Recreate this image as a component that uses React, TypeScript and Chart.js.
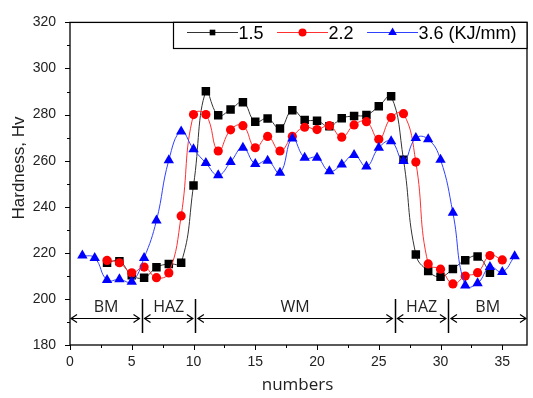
import React, { useEffect, useRef } from 'react';
import { Chart, registerables } from 'chart.js';

Chart.register(...registerables);

// ---- Data ----
const xBlack = [3, 4, 5, 6, 7, 8, 9, 10, 11, 12, 13, 14, 15, 16, 17, 18, 19, 20, 21, 22, 23, 24, 25, 26, 27, 28, 29, 30, 31, 32, 33, 34];
const hv15 = [215.7, 216.4, 210.3, 209.2, 213.7, 215.2, 215.7, 249.2, 290.1, 279.7, 282.2, 285.3, 276.9, 278.3, 274.0, 281.9, 277.7, 277.3, 274.9, 278.4, 279.4, 279.8, 283.6, 287.9, 260.4, 219.3, 212.1, 209.6, 213.0, 216.8, 218.4, 211.4];

const xRed = [3, 4, 5, 6, 7, 8, 9, 10, 11, 12, 13, 14, 15, 16, 17, 18, 19, 20, 21, 22, 23, 24, 25, 26, 27, 28, 29, 30, 31, 32, 33, 34, 35];
const hv22 = [216.7, 215.7, 211.3, 213.8, 209.2, 211.3, 236.0, 280.0, 280.0, 264.2, 273.4, 275.2, 265.6, 270.5, 264.2, 270.5, 274.5, 273.5, 275.2, 270.2, 275.5, 276.9, 269.3, 278.7, 280.4, 259.4, 215.2, 212.9, 206.5, 209.9, 211.4, 218.8, 216.9];

const xBlue = [1, 2, 3, 4, 5, 6, 7, 8, 9, 10, 11, 12, 13, 14, 15, 16, 17, 18, 19, 20, 21, 22, 23, 24, 25, 26, 27, 28, 29, 30, 31, 32, 33, 34, 35, 36];
const hv36 = [218.8, 217.8, 208.2, 208.5, 207.5, 217.8, 234.0, 260.2, 272.6, 265.0, 259.0, 253.7, 259.4, 265.6, 258.6, 260.0, 254.7, 269.6, 261.3, 261.3, 255.4, 258.3, 262.5, 257.5, 265.6, 268.4, 259.9, 269.8, 269.3, 260.4, 237.4, 205.8, 206.8, 213.8, 211.7, 218.5];

const seriesLabels = ['1.5', '2.2', '3.6 (KJ/mm)'];
const yTicks = [180, 200, 220, 240, 260, 280, 300, 320];
const xTicks = [0, 5, 10, 15, 20, 25, 30, 35];

// weld zones (boundaries in "numbers" units) and their names
const zoneEdges = [0, 5.83, 10.15, 26.3, 30.64, 37];
const zoneLabels = ['BM', 'HAZ', 'WM', 'HAZ', 'BM'];

const ARIAL = '"Liberation Sans", Arial, sans-serif';
const GOTHIC = '"Open Sans", "Noto Sans", sans-serif';

const COLORS = ['#000000', '#ff0000', '#0000ff'];
const LINE_COLORS = ['#333333', '#ff3030', '#3040ff'];
const STYLES = ['rect', 'circle', 'triangle'];
const RADII = [6, 4.6, 6];

function drawMarker(ctx: CanvasRenderingContext2D, style: string, x: number, y: number, r: number, color: string) {
  ctx.fillStyle = color;
  ctx.beginPath();
  if (style === 'rect') {
    const s = Math.SQRT1_2 * r;
    ctx.rect(x - s, y - s, 2 * s, 2 * s);
  } else if (style === 'circle') {
    ctx.arc(x, y, r, 0, Math.PI * 2);
  } else {
    for (let i = 0; i < 3; i++) {
      const a = (i * 2 * Math.PI) / 3;
      const px = x + Math.sin(a) * r;
      const py = y - Math.cos(a) * r;
      if (i === 0) ctx.moveTo(px, py);
      else ctx.lineTo(px, py);
    }
    ctx.closePath();
  }
  ctx.fill();
}

const decorPlugin = {
  id: 'decor',
  afterDraw(chart: any) {
    const { ctx, chartArea: a, scales } = chart;
    const xs = scales.x;
    const ys = scales.y;
    ctx.save();

    // frame
    ctx.strokeStyle = '#000';
    ctx.lineWidth = 1.3;
    ctx.strokeRect(a.left, a.top, a.right - a.left, a.bottom - a.top);

    // ticks (major + minor), outward
    ctx.lineWidth = 1;
    ctx.beginPath();
    for (let i = 0; i < yTicks.length; i++) {
      const py = Math.round(ys.getPixelForValue(yTicks[i])) + 0.5;
      ctx.moveTo(a.left, py);
      ctx.lineTo(a.left - 5, py);
      if (i < yTicks.length - 1) {
        const pm = Math.round(ys.getPixelForValue((yTicks[i] + yTicks[i + 1]) / 2)) + 0.5;
        ctx.moveTo(a.left, pm);
        ctx.lineTo(a.left - 3, pm);
      }
    }
    for (let i = 0; i < xTicks.length; i++) {
      const px = Math.round(xs.getPixelForValue(xTicks[i])) + 0.5;
      ctx.moveTo(px, a.bottom);
      ctx.lineTo(px, a.bottom + 5);
      const mid = xTicks[i] + 2.5;
      if (mid <= xs.max) {
        const pm = Math.round(xs.getPixelForValue(mid)) + 0.5;
        ctx.moveTo(pm, a.bottom);
        ctx.lineTo(pm, a.bottom + 3);
      }
    }
    ctx.stroke();

    // weld zone annotations
    const yTop = ys.getPixelForValue(200);
    const yBot = ys.getPixelForValue(185.2);
    const yArrow = ys.getPixelForValue(191.7);
    const yText = ys.getPixelForValue(196.2);
    ctx.lineWidth = 1.5;
    ctx.beginPath();
    for (let i = 1; i < zoneEdges.length - 1; i++) {
      const px = Math.round(xs.getPixelForValue(zoneEdges[i])) + 0.5;
      ctx.moveTo(px, yTop);
      ctx.lineTo(px, yBot);
    }
    ctx.stroke();
    ctx.lineWidth = 1.2;
    for (let i = 0; i < zoneLabels.length; i++) {
      const x0 = xs.getPixelForValue(zoneEdges[i]) + (i === 0 ? 1 : 2.5);
      const x1 = xs.getPixelForValue(zoneEdges[i + 1]) - (i === zoneLabels.length - 1 ? 1 : 2.5);
      const ya = Math.round(yArrow) + 0.5;
      ctx.beginPath();
      ctx.moveTo(x0, ya);
      ctx.lineTo(x1, ya);
      ctx.moveTo(x0 + 6, ya - 4);
      ctx.lineTo(x0, ya);
      ctx.lineTo(x0 + 6, ya + 4);
      ctx.moveTo(x1 - 6, ya - 4);
      ctx.lineTo(x1, ya);
      ctx.lineTo(x1 - 6, ya + 4);
      ctx.stroke();
      ctx.fillStyle = '#222';
      ctx.font = `16px ${GOTHIC}`;
      ctx.textAlign = 'center';
      ctx.textBaseline = 'middle';
      const xm = (xs.getPixelForValue(zoneEdges[i]) + xs.getPixelForValue(zoneEdges[i + 1])) / 2;
      ctx.fillText(zoneLabels[i], xm, yText);
    }

    // legend
    const lx0 = 173.5;
    const ly0 = a.top;
    const lx1 = a.right;
    const ly1 = 48.5;
    ctx.fillStyle = '#fff';
    ctx.fillRect(lx0, ly0, lx1 - lx0, ly1 - ly0);
    ctx.strokeStyle = '#000';
    ctx.lineWidth = 1.2;
    ctx.strokeRect(lx0, ly0, lx1 - lx0, ly1 - ly0);
    ctx.font = `18px ${ARIAL}`;
    ctx.textAlign = 'left';
    ctx.textBaseline = 'alphabetic';
    let cx = 187;
    const cy = 32.5;
    const sizes = [4, 4, 5];
    for (let i = 0; i < seriesLabels.length; i++) {
      ctx.strokeStyle = LINE_COLORS[i];
      ctx.lineWidth = 1;
      ctx.beginPath();
      ctx.moveTo(cx, cy);
      ctx.lineTo(cx + 51, cy);
      ctx.stroke();
      drawMarker(ctx, STYLES[i], cx + 25.5, cy, sizes[i], COLORS[i]);
      ctx.fillStyle = '#000';
      ctx.fillText(seriesLabels[i], cx + 51.5, 38.5);
      cx += 51.5 + ctx.measureText(seriesLabels[i]).width + 13.5;
    }

    // axis titles
    ctx.fillStyle = '#222';
    ctx.font = `17px ${GOTHIC}`;
    ctx.textAlign = 'center';
    ctx.textBaseline = 'middle';
    ctx.fillText('numbers', (a.left + a.right) / 2 - 1, 385);
    ctx.save();
    ctx.translate(19, 168);
    ctx.rotate(-Math.PI / 2);
    ctx.font = `17px ${ARIAL}`;
    ctx.fillText('Hardness, Hv', 0, 0);
    ctx.restore();

    ctx.restore();
  },
};

function toPoints(xs: number[], ys: number[]) {
  return xs.map((x, i) => ({ x, y: ys[i] }));
}

export default function App() {
  const ref = useRef<HTMLCanvasElement | null>(null);

  useEffect(() => {
    if (!ref.current) return;
    const seriesData = [toPoints(xBlack, hv15), toPoints(xRed, hv22), toPoints(xBlue, hv36)];
    const chart = new Chart(ref.current, {
      type: 'line',
      data: {
        datasets: seriesData.map((d, i) => ({
          label: seriesLabels[i],
          data: d,
          borderColor: LINE_COLORS[i],
          backgroundColor: COLORS[i],
          borderWidth: 1,
          pointStyle: STYLES[i] as any,
          pointRadius: RADII[i],
          pointBorderWidth: 0,
          pointBackgroundColor: COLORS[i],
          tension: 0.45,
          fill: false,
          order: 3 - i,
        })),
      },
      options: {
        animation: false,
        responsive: false,
        devicePixelRatio: 1,
        layout: { padding: { top: 13, right: 1, left: 0, bottom: 0 } },
        plugins: {
          legend: { display: false },
          tooltip: { enabled: false },
        },
        scales: {
          x: {
            type: 'linear',
            min: 0,
            max: 37,
            afterBuildTicks: (s: any) => {
              s.ticks = xTicks.map((v) => ({ value: v }));
            },
            afterFit: (s: any) => {
              s.height = 53;
            },
            ticks: {
              includeBounds: false,
              font: { family: ARIAL, size: 14 },
              color: '#222',
              padding: 9,
              maxRotation: 0,
              autoSkip: false,
            },
            grid: { display: false, drawTicks: false },
            border: { display: false },
          },
          y: {
            type: 'linear',
            min: 180,
            max: 320,
            afterBuildTicks: (s: any) => {
              s.ticks = yTicks.map((v) => ({ value: v }));
            },
            afterFit: (s: any) => {
              s.width = 70;
            },
            ticks: {
              font: { family: ARIAL, size: 14 },
              color: '#222',
              padding: 14,
              autoSkip: false,
            },
            grid: { display: false, drawTicks: false },
            border: { display: false },
          },
        },
      },
      plugins: [decorPlugin],
    });
    return () => chart.destroy();
  }, []);

  return (
    <div style={{ position: 'fixed', left: 0, top: 0, width: 533, height: 398, background: '#fff' }}>
      <canvas ref={ref} width={533} height={398} style={{ display: 'block', width: 533, height: 398 }} />
    </div>
  );
}
